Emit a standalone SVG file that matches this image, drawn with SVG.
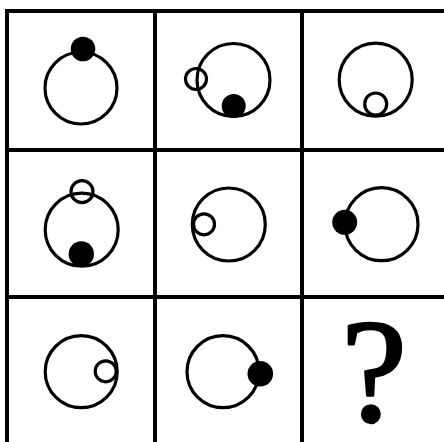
<svg xmlns="http://www.w3.org/2000/svg" width="444" height="442" viewBox="0 0 444 442">
<style>
.grid{stroke:#000;stroke-width:4;fill:none}
.ring{fill:none;stroke:#000;stroke-width:3.2}
.dot{fill:#000}
.q{font-family:"Liberation Serif","Times New Roman",serif;font-size:148px;fill:#000;stroke:#000;stroke-width:2.5;stroke-linejoin:round}
</style>
<rect width="444" height="442" fill="#fff"/>
<g id="grid">
<line class="grid" x1="7" y1="11" x2="444" y2="11"/>
<line class="grid" x1="7" y1="150" x2="444" y2="150"/>
<line class="grid" x1="7" y1="297" x2="444" y2="297"/>
<line class="grid" x1="7" y1="9" x2="7" y2="442"/>
<line class="grid" x1="155" y1="9" x2="155" y2="442"/>
<line class="grid" x1="302" y1="9" x2="302" y2="442"/>
</g>
<g id="cell-1-1">
<circle class="ring" cx="81" cy="88" r="36"/>
<circle class="dot" cx="83" cy="49" r="12.3"/>
</g>
<g id="cell-1-2">
<circle class="ring" cx="233.5" cy="80" r="36.5"/>
<circle class="ring" cx="196" cy="79" r="10.5"/>
<circle class="dot" cx="233.7" cy="106" r="12"/>
</g>
<g id="cell-1-3">
<circle class="ring" cx="375.7" cy="79.7" r="36.5"/>
<circle class="ring" cx="375.7" cy="104" r="11"/>
</g>
<g id="cell-2-1">
<circle class="ring" cx="81.7" cy="229.7" r="36.5"/>
<circle class="ring" cx="82" cy="191.7" r="11"/>
<circle class="dot" cx="81.3" cy="254" r="12.7"/>
</g>
<g id="cell-2-2">
<circle class="ring" cx="228.8" cy="224.5" r="36.5"/>
<circle class="ring" cx="204" cy="224.3" r="10.5"/>
</g>
<g id="cell-2-3">
<circle class="ring" cx="381.5" cy="224.2" r="36.5"/>
<circle class="dot" cx="344.7" cy="222.3" r="12.5"/>
</g>
<g id="cell-3-1">
<circle class="ring" cx="81.2" cy="371.7" r="36"/>
<circle class="ring" cx="105.7" cy="371.3" r="10.5"/>
</g>
<g id="cell-3-2">
<circle class="ring" cx="223" cy="371.7" r="36"/>
<circle class="dot" cx="260.3" cy="373.7" r="12.8"/>
</g>
<g id="cell-3-3">
<text class="q" x="374" y="421" text-anchor="middle">?</text>
</g>
</svg>
